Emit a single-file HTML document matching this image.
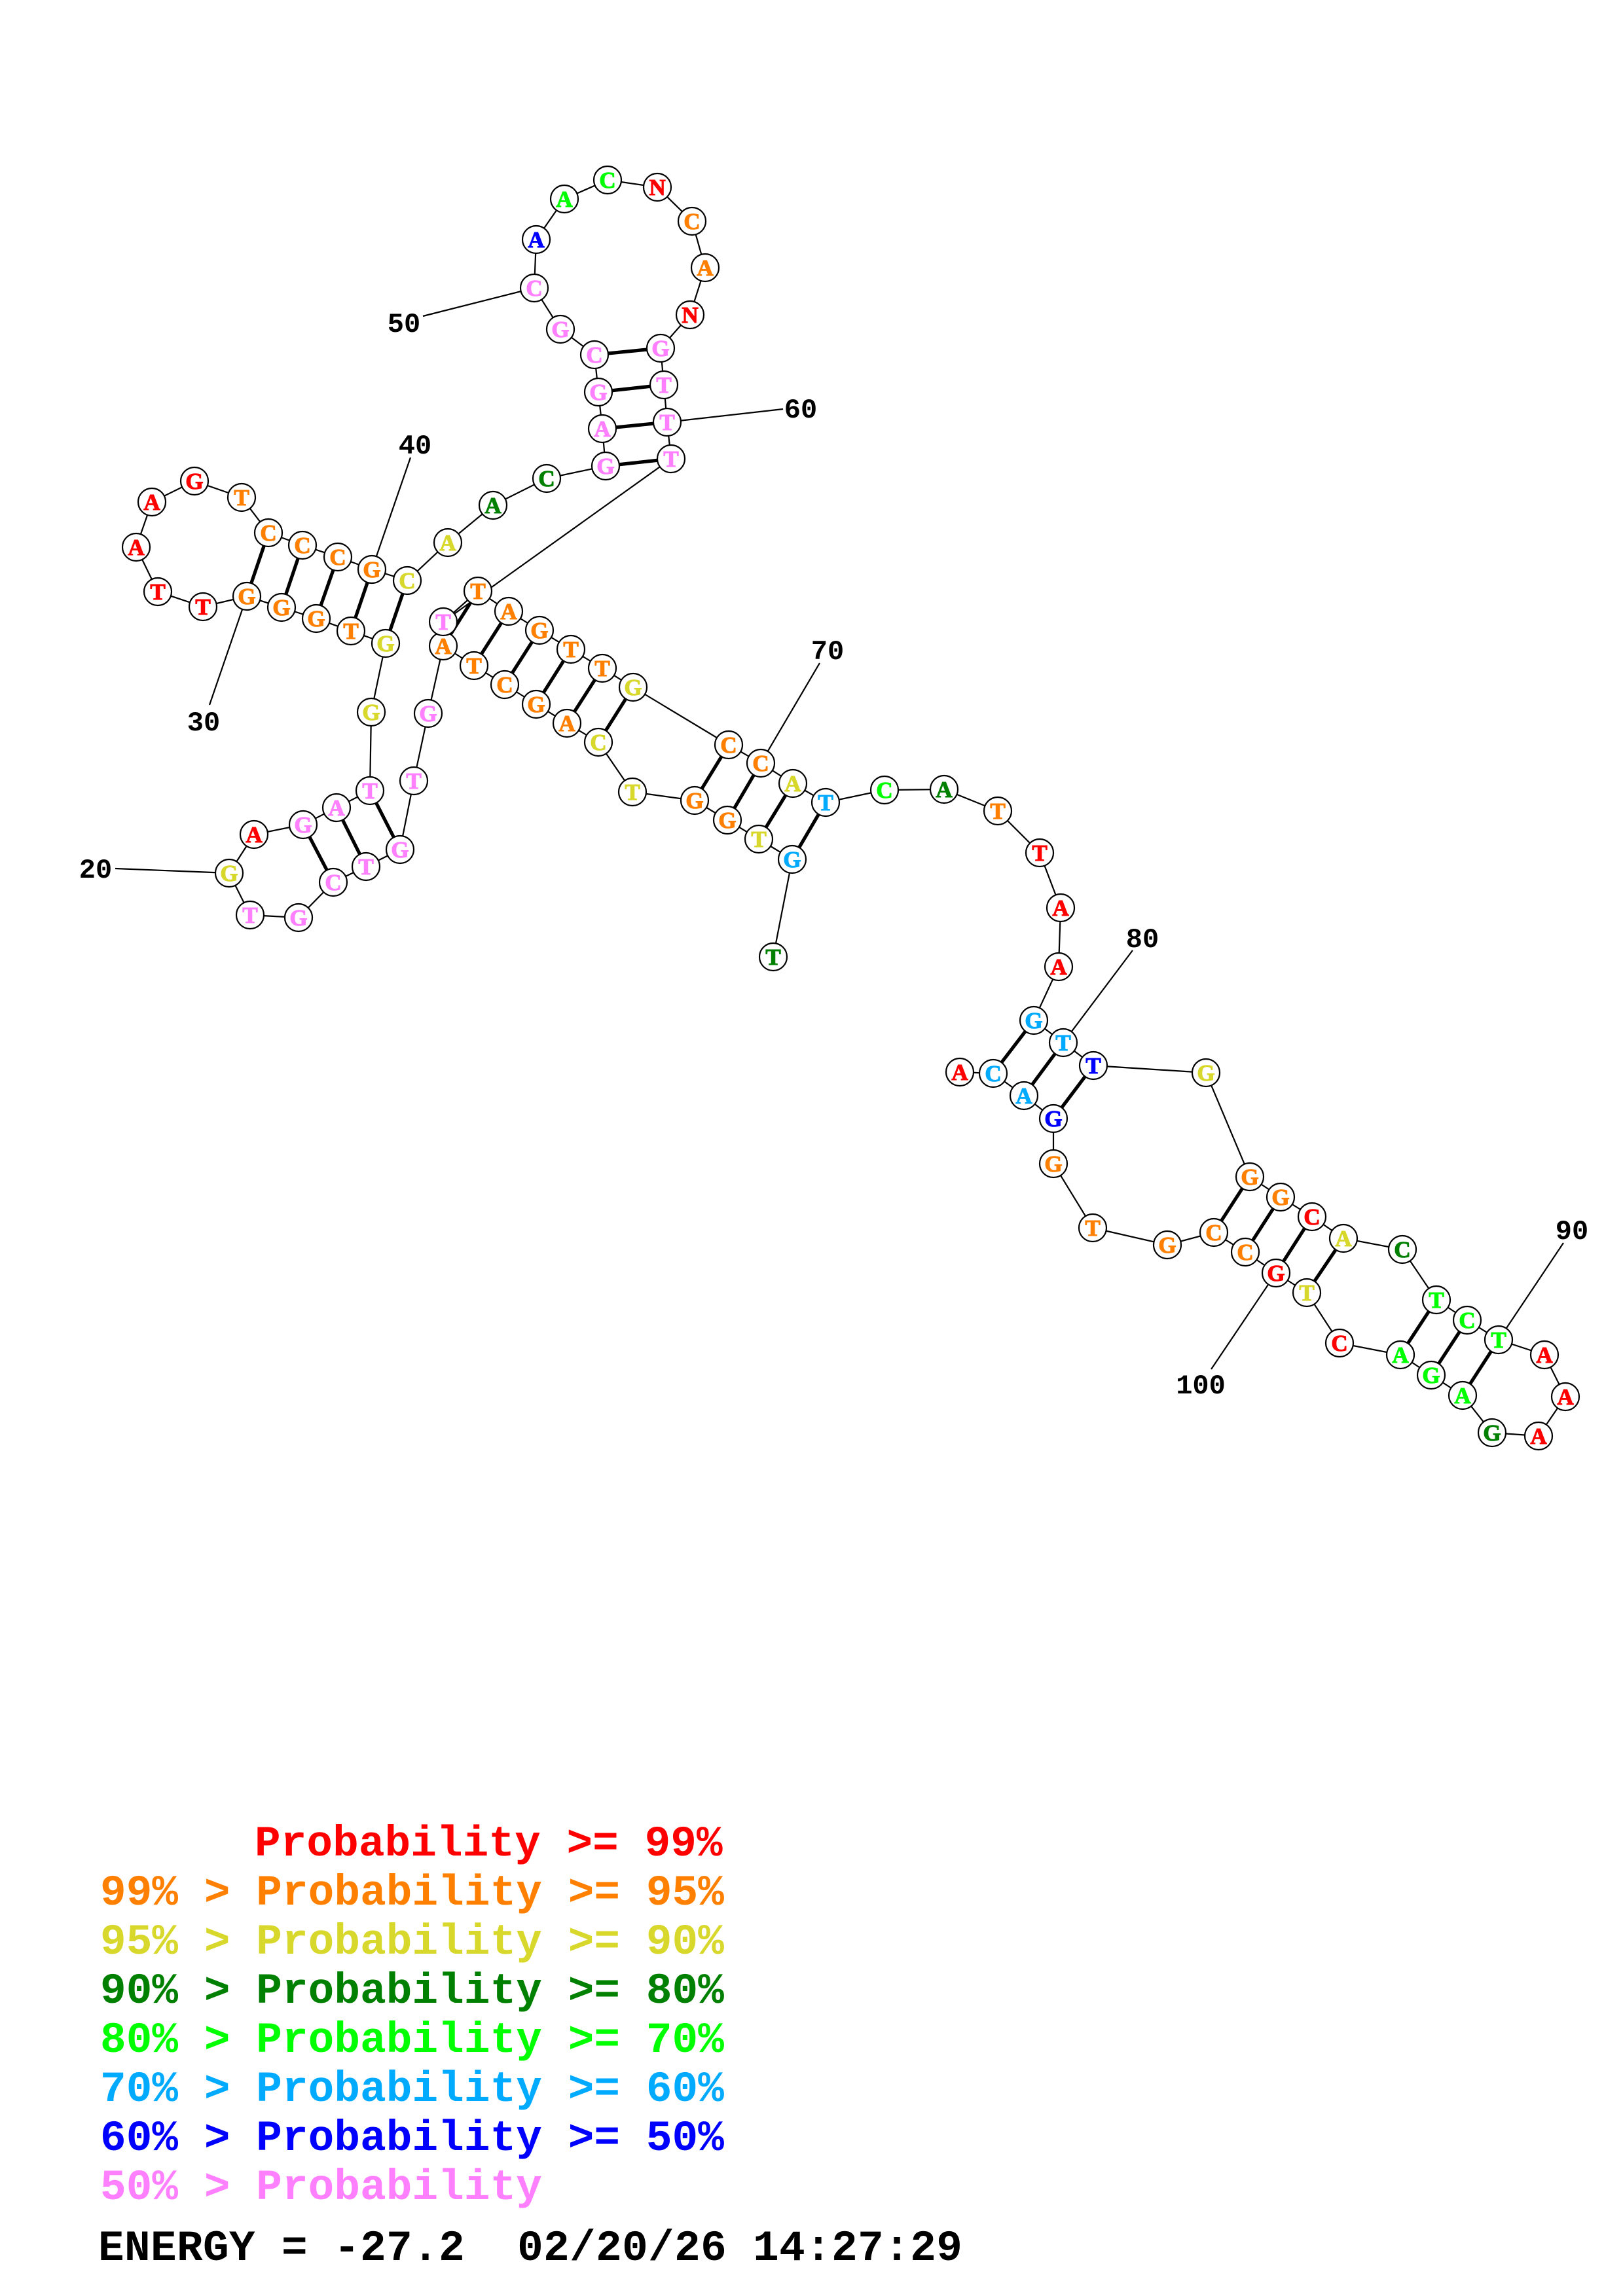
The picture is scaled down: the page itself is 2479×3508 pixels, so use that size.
<!DOCTYPE html>
<html><head><meta charset="utf-8"><style>
html,body{margin:0;padding:0;background:#fff}
svg{display:block}
circle{fill:#fff;stroke:#000;stroke-width:2.2}
.n{font:bold 35px "Liberation Serif",serif;text-anchor:middle;stroke-width:1.1}
.t{font:bold 42px "Liberation Mono",monospace;text-anchor:middle;fill:#000}
.L{font:bold 66px "Liberation Mono",monospace;white-space:pre}
.r{fill:#ff0000}.o{fill:#ff8000}.y{fill:#d8d82c}.d{fill:#008000}.l{fill:#00ff00}.s{fill:#00aaff}.b{fill:#0000ff}.p{fill:#ff80ff}.k{fill:#000}
.n.r{stroke:#ff0000}.n.o{stroke:#ff8000}.n.y{stroke:#d8d82c}.n.d{stroke:#008000}.n.l{stroke:#00ff00}.n.s{stroke:#00aaff}.n.b{stroke:#0000ff}.n.p{stroke:#ff80ff}
</style></head><body>
<svg xmlns="http://www.w3.org/2000/svg" width="2479" height="3508" viewBox="0 0 2479 3508">
<rect width="2479" height="3508" fill="#fff"/>
<polyline fill="none" stroke="#000" stroke-width="2.2" points="1181,1462 1210,1313 1159,1282 1111,1253 1061,1223 966,1210 914,1134 866,1105 819,1076 771,1046 724,1017 677,987 654,1090 632,1193 611,1298 559,1324 509,1348 456,1402 382,1398 350,1334 388,1275 463,1260 514,1234 565,1208 567,1088 589,983 536,964 483,945 430,928 377,911 310,927 241,904 208,836 232,767 297,735 369,760 410,814 462,833 516,851 568,870 622,887 684,829 753,772 835,731 925,712 920,655 914,599 908,542 856,503 816,440 819,366 862,304 928,275 1004,286 1057,338 1077,409 1054,481 1009,532 1014,588 1019,645 1025,701 677,950 730,903 777,934 824,963 872,992 920,1021 967,1050 1113,1138 1162,1166 1211,1197 1261,1226 1351,1207 1442,1206 1524,1239 1588,1303 1620,1387 1617,1477 1579,1559 1624,1593 1670,1628 1842,1639 1909,1798 1956,1829 2004,1859 2052,1892 2142,1909 2194,1986 2241,2017 2289,2047 2359,2070 2391,2134 2350,2194 2279,2189 2234,2132 2186,2101 2139,2070 2046,2052 1996,1975 1949,1945 1902,1913 1854,1883 1783,1902 1669,1876 1609,1778 1609,1709 1564,1674 1517,1640 1466,1638"/>
<g stroke="#000" stroke-width="5.2">
<line x1="1009" y1="532" x2="908" y2="542"/><line x1="1014" y1="588" x2="914" y2="599"/><line x1="1019" y1="645" x2="920" y2="655"/><line x1="1025" y1="701" x2="925" y2="712"/>
<line x1="410" y1="814" x2="377" y2="911"/><line x1="462" y1="833" x2="430" y2="928"/><line x1="516" y1="851" x2="483" y2="945"/><line x1="568" y1="870" x2="536" y2="964"/><line x1="622" y1="887" x2="589" y2="983"/>
<line x1="565" y1="1208" x2="611" y2="1298"/><line x1="514" y1="1234" x2="559" y2="1324"/><line x1="463" y1="1260" x2="509" y2="1348"/>
<line x1="730" y1="903" x2="677" y2="987"/><line x1="777" y1="934" x2="724" y2="1017"/><line x1="824" y1="963" x2="771" y2="1046"/><line x1="872" y1="992" x2="819" y2="1076"/><line x1="920" y1="1021" x2="866" y2="1105"/><line x1="967" y1="1050" x2="914" y2="1134"/>
<line x1="1113" y1="1138" x2="1061" y2="1223"/><line x1="1162" y1="1166" x2="1111" y2="1253"/><line x1="1211" y1="1197" x2="1159" y2="1282"/><line x1="1261" y1="1226" x2="1210" y2="1313"/>
<line x1="1579" y1="1559" x2="1517" y2="1640"/><line x1="1624" y1="1593" x2="1564" y2="1674"/><line x1="1670" y1="1628" x2="1609" y2="1709"/>
<line x1="1909" y1="1798" x2="1854" y2="1883"/><line x1="1956" y1="1829" x2="1902" y2="1913"/><line x1="2004" y1="1859" x2="1949" y2="1945"/><line x1="2052" y1="1892" x2="1996" y2="1975"/>
<line x1="2194" y1="1986" x2="2139" y2="2070"/><line x1="2241" y1="2017" x2="2186" y2="2101"/><line x1="2289" y1="2047" x2="2234" y2="2132"/>
</g>
<g stroke="#000" stroke-width="2.2">
<line x1="350" y1="1334" x2="176" y2="1327"/>
<line x1="377" y1="911" x2="320" y2="1077"/>
<line x1="568" y1="870" x2="627" y2="699"/>
<line x1="816" y1="440" x2="646" y2="483"/>
<line x1="1019" y1="645" x2="1196" y2="625"/>
<line x1="1162" y1="1166" x2="1252" y2="1013"/>
<line x1="1624" y1="1593" x2="1730" y2="1452"/>
<line x1="2289" y1="2047" x2="2388" y2="1899"/>
<line x1="1949" y1="1945" x2="1850" y2="2092"/>
</g>
<text class="t" x="146" y="1341">20</text>
<text class="t" x="311" y="1116">30</text>
<text class="t" x="634" y="693">40</text>
<text class="t" x="617" y="507">50</text>
<text class="t" x="1223" y="638">60</text>
<text class="t" x="1264" y="1007">70</text>
<text class="t" x="1745" y="1447">80</text>
<text class="t" x="2401" y="1893">90</text>
<text class="t" x="1834" y="2129">100</text>
<circle cx="1181" cy="1462" r="21"/><text class="n d" x="1181" y="1474">T</text>
<circle cx="1210" cy="1313" r="21"/><text class="n s" x="1210" y="1325">G</text>
<circle cx="1159" cy="1282" r="21"/><text class="n y" x="1159" y="1294">T</text>
<circle cx="1111" cy="1253" r="21"/><text class="n o" x="1111" y="1265">G</text>
<circle cx="1061" cy="1223" r="21"/><text class="n o" x="1061" y="1235">G</text>
<circle cx="966" cy="1210" r="21"/><text class="n y" x="966" y="1222">T</text>
<circle cx="914" cy="1134" r="21"/><text class="n y" x="914" y="1146">C</text>
<circle cx="866" cy="1105" r="21"/><text class="n o" x="866" y="1117">A</text>
<circle cx="819" cy="1076" r="21"/><text class="n o" x="819" y="1088">G</text>
<circle cx="771" cy="1046" r="21"/><text class="n o" x="771" y="1058">C</text>
<circle cx="724" cy="1017" r="21"/><text class="n o" x="724" y="1029">T</text>
<circle cx="677" cy="987" r="21"/><text class="n o" x="677" y="999">A</text>
<circle cx="654" cy="1090" r="21"/><text class="n p" x="654" y="1102">G</text>
<circle cx="632" cy="1193" r="21"/><text class="n p" x="632" y="1205">T</text>
<circle cx="611" cy="1298" r="21"/><text class="n p" x="611" y="1310">G</text>
<circle cx="559" cy="1324" r="21"/><text class="n p" x="559" y="1336">T</text>
<circle cx="509" cy="1348" r="21"/><text class="n p" x="509" y="1360">C</text>
<circle cx="456" cy="1402" r="21"/><text class="n p" x="456" y="1414">G</text>
<circle cx="382" cy="1398" r="21"/><text class="n p" x="382" y="1410">T</text>
<circle cx="350" cy="1334" r="21"/><text class="n y" x="350" y="1346">G</text>
<circle cx="388" cy="1275" r="21"/><text class="n r" x="388" y="1287">A</text>
<circle cx="463" cy="1260" r="21"/><text class="n p" x="463" y="1272">G</text>
<circle cx="514" cy="1234" r="21"/><text class="n p" x="514" y="1246">A</text>
<circle cx="565" cy="1208" r="21"/><text class="n p" x="565" y="1220">T</text>
<circle cx="567" cy="1088" r="21"/><text class="n y" x="567" y="1100">G</text>
<circle cx="589" cy="983" r="21"/><text class="n y" x="589" y="995">G</text>
<circle cx="536" cy="964" r="21"/><text class="n o" x="536" y="976">T</text>
<circle cx="483" cy="945" r="21"/><text class="n o" x="483" y="957">G</text>
<circle cx="430" cy="928" r="21"/><text class="n o" x="430" y="940">G</text>
<circle cx="377" cy="911" r="21"/><text class="n o" x="377" y="923">G</text>
<circle cx="310" cy="927" r="21"/><text class="n r" x="310" y="939">T</text>
<circle cx="241" cy="904" r="21"/><text class="n r" x="241" y="916">T</text>
<circle cx="208" cy="836" r="21"/><text class="n r" x="208" y="848">A</text>
<circle cx="232" cy="767" r="21"/><text class="n r" x="232" y="779">A</text>
<circle cx="297" cy="735" r="21"/><text class="n r" x="297" y="747">G</text>
<circle cx="369" cy="760" r="21"/><text class="n o" x="369" y="772">T</text>
<circle cx="410" cy="814" r="21"/><text class="n o" x="410" y="826">C</text>
<circle cx="462" cy="833" r="21"/><text class="n o" x="462" y="845">C</text>
<circle cx="516" cy="851" r="21"/><text class="n o" x="516" y="863">C</text>
<circle cx="568" cy="870" r="21"/><text class="n o" x="568" y="882">G</text>
<circle cx="622" cy="887" r="21"/><text class="n y" x="622" y="899">C</text>
<circle cx="684" cy="829" r="21"/><text class="n y" x="684" y="841">A</text>
<circle cx="753" cy="772" r="21"/><text class="n d" x="753" y="784">A</text>
<circle cx="835" cy="731" r="21"/><text class="n d" x="835" y="743">C</text>
<circle cx="925" cy="712" r="21"/><text class="n p" x="925" y="724">G</text>
<circle cx="920" cy="655" r="21"/><text class="n p" x="920" y="667">A</text>
<circle cx="914" cy="599" r="21"/><text class="n p" x="914" y="611">G</text>
<circle cx="908" cy="542" r="21"/><text class="n p" x="908" y="554">C</text>
<circle cx="856" cy="503" r="21"/><text class="n p" x="856" y="515">G</text>
<circle cx="816" cy="440" r="21"/><text class="n p" x="816" y="452">C</text>
<circle cx="819" cy="366" r="21"/><text class="n b" x="819" y="378">A</text>
<circle cx="862" cy="304" r="21"/><text class="n l" x="862" y="316">A</text>
<circle cx="928" cy="275" r="21"/><text class="n l" x="928" y="287">C</text>
<circle cx="1004" cy="286" r="21"/><text class="n r" x="1004" y="298">N</text>
<circle cx="1057" cy="338" r="21"/><text class="n o" x="1057" y="350">C</text>
<circle cx="1077" cy="409" r="21"/><text class="n o" x="1077" y="421">A</text>
<circle cx="1054" cy="481" r="21"/><text class="n r" x="1054" y="493">N</text>
<circle cx="1009" cy="532" r="21"/><text class="n p" x="1009" y="544">G</text>
<circle cx="1014" cy="588" r="21"/><text class="n p" x="1014" y="600">T</text>
<circle cx="1019" cy="645" r="21"/><text class="n p" x="1019" y="657">T</text>
<circle cx="1025" cy="701" r="21"/><text class="n p" x="1025" y="713">T</text>
<circle cx="677" cy="950" r="21"/><text class="n p" x="677" y="962">T</text>
<circle cx="730" cy="903" r="21"/><text class="n o" x="730" y="915">T</text>
<circle cx="777" cy="934" r="21"/><text class="n o" x="777" y="946">A</text>
<circle cx="824" cy="963" r="21"/><text class="n o" x="824" y="975">G</text>
<circle cx="872" cy="992" r="21"/><text class="n o" x="872" y="1004">T</text>
<circle cx="920" cy="1021" r="21"/><text class="n o" x="920" y="1033">T</text>
<circle cx="967" cy="1050" r="21"/><text class="n y" x="967" y="1062">G</text>
<circle cx="1113" cy="1138" r="21"/><text class="n o" x="1113" y="1150">C</text>
<circle cx="1162" cy="1166" r="21"/><text class="n o" x="1162" y="1178">C</text>
<circle cx="1211" cy="1197" r="21"/><text class="n y" x="1211" y="1209">A</text>
<circle cx="1261" cy="1226" r="21"/><text class="n s" x="1261" y="1238">T</text>
<circle cx="1351" cy="1207" r="21"/><text class="n l" x="1351" y="1219">C</text>
<circle cx="1442" cy="1206" r="21"/><text class="n d" x="1442" y="1218">A</text>
<circle cx="1524" cy="1239" r="21"/><text class="n o" x="1524" y="1251">T</text>
<circle cx="1588" cy="1303" r="21"/><text class="n r" x="1588" y="1315">T</text>
<circle cx="1620" cy="1387" r="21"/><text class="n r" x="1620" y="1399">A</text>
<circle cx="1617" cy="1477" r="21"/><text class="n r" x="1617" y="1489">A</text>
<circle cx="1579" cy="1559" r="21"/><text class="n s" x="1579" y="1571">G</text>
<circle cx="1624" cy="1593" r="21"/><text class="n s" x="1624" y="1605">T</text>
<circle cx="1670" cy="1628" r="21"/><text class="n b" x="1670" y="1640">T</text>
<circle cx="1842" cy="1639" r="21"/><text class="n y" x="1842" y="1651">G</text>
<circle cx="1909" cy="1798" r="21"/><text class="n o" x="1909" y="1810">G</text>
<circle cx="1956" cy="1829" r="21"/><text class="n o" x="1956" y="1841">G</text>
<circle cx="2004" cy="1859" r="21"/><text class="n r" x="2004" y="1871">C</text>
<circle cx="2052" cy="1892" r="21"/><text class="n y" x="2052" y="1904">A</text>
<circle cx="2142" cy="1909" r="21"/><text class="n d" x="2142" y="1921">C</text>
<circle cx="2194" cy="1986" r="21"/><text class="n l" x="2194" y="1998">T</text>
<circle cx="2241" cy="2017" r="21"/><text class="n l" x="2241" y="2029">C</text>
<circle cx="2289" cy="2047" r="21"/><text class="n l" x="2289" y="2059">T</text>
<circle cx="2359" cy="2070" r="21"/><text class="n r" x="2359" y="2082">A</text>
<circle cx="2391" cy="2134" r="21"/><text class="n r" x="2391" y="2146">A</text>
<circle cx="2350" cy="2194" r="21"/><text class="n r" x="2350" y="2206">A</text>
<circle cx="2279" cy="2189" r="21"/><text class="n d" x="2279" y="2201">G</text>
<circle cx="2234" cy="2132" r="21"/><text class="n l" x="2234" y="2144">A</text>
<circle cx="2186" cy="2101" r="21"/><text class="n l" x="2186" y="2113">G</text>
<circle cx="2139" cy="2070" r="21"/><text class="n l" x="2139" y="2082">A</text>
<circle cx="2046" cy="2052" r="21"/><text class="n r" x="2046" y="2064">C</text>
<circle cx="1996" cy="1975" r="21"/><text class="n y" x="1996" y="1987">T</text>
<circle cx="1949" cy="1945" r="21"/><text class="n r" x="1949" y="1957">G</text>
<circle cx="1902" cy="1913" r="21"/><text class="n o" x="1902" y="1925">C</text>
<circle cx="1854" cy="1883" r="21"/><text class="n o" x="1854" y="1895">C</text>
<circle cx="1783" cy="1902" r="21"/><text class="n o" x="1783" y="1914">G</text>
<circle cx="1669" cy="1876" r="21"/><text class="n o" x="1669" y="1888">T</text>
<circle cx="1609" cy="1778" r="21"/><text class="n o" x="1609" y="1790">G</text>
<circle cx="1609" cy="1709" r="21"/><text class="n b" x="1609" y="1721">G</text>
<circle cx="1564" cy="1674" r="21"/><text class="n s" x="1564" y="1686">A</text>
<circle cx="1517" cy="1640" r="21"/><text class="n s" x="1517" y="1652">C</text>
<circle cx="1466" cy="1638" r="21"/><text class="n r" x="1466" y="1650">A</text>
<text class="L r" x="389" y="2835" letter-spacing="0.1">Probability &gt;= 99%</text>
<text class="L o" x="153" y="2910" letter-spacing="0.1">99% &gt; Probability &gt;= 95%</text>
<text class="L y" x="153" y="2985" letter-spacing="0.1">95% &gt; Probability &gt;= 90%</text>
<text class="L d" x="153" y="3060" letter-spacing="0.1">90% &gt; Probability &gt;= 80%</text>
<text class="L l" x="153" y="3135" letter-spacing="0.1">80% &gt; Probability &gt;= 70%</text>
<text class="L s" x="153" y="3210" letter-spacing="0.1">70% &gt; Probability &gt;= 60%</text>
<text class="L b" x="153" y="3285" letter-spacing="0.1">60% &gt; Probability &gt;= 50%</text>
<text class="L p" x="153" y="3360" letter-spacing="0.1">50% &gt; Probability</text>
<text class="L k" x="150" y="3453" letter-spacing="0.4">ENERGY = -27.2  02/20/26 14:27:29</text>
</svg>
</body></html>
